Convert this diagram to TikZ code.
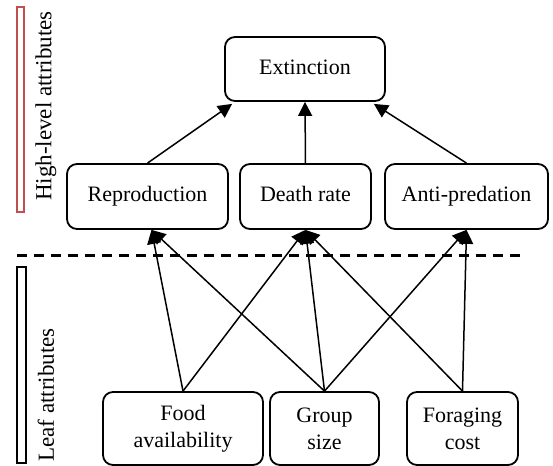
\documentclass[tikz,border=0pt]{standalone}
\usepackage{fontspec}
\setmainfont{Liberation Serif}
\usetikzlibrary{arrows.meta}
\definecolor{barred}{RGB}{192,80,77}
\tikzset{
  attr/.style={draw, rounded corners=5pt, line width=0.9pt, align=center,
    inner sep=0pt, minimum height=32.5pt, font=\fontsize{11}{13.5}\selectfont},
  upper/.style={attr, text height=7.8pt, text depth=2.4pt},
  leaf/.style={attr, minimum height=36.5pt},
  link/.style={-{Triangle[length=7pt,width=7pt]}, line width=0.75pt},
  side/.style={rotate=90, font=\fontsize{11.5}{13.5}\selectfont}
}
\begin{document}
\begin{tikzpicture}[x=0.5pt,y=-0.5pt]
\useasboundingbox (0,0) rectangle (553,466);
%attribute boxes, top to bottom
\node[upper, minimum width=80pt, minimum height=32pt] (ext) at (305,69) {Extinction};
\node[upper, minimum width=80.5pt] (repro) at (147.5,196.5) {Reproduction};
\node[upper, minimum width=65.5pt] (death) at (305.5,196.5) {Death rate};
\node[upper, minimum width=81.5pt] (anti) at (466.5,196.5) {Anti-predation};
\node[leaf, minimum width=80pt] (food) at (183,428.5) {Food\\availability};
\node[leaf, minimum width=54.5pt] (group) at (324.5,428.5) {Group\\size};
\node[leaf, minimum width=55.5pt] (forage) at (462.5,428.5) {Foraging\\cost};
%tips meet the extinction box near its corners
\coordinate (extl) at ([xshift=4pt,yshift=-1pt]ext.south west);
\coordinate (extr) at ([xshift=-6pt,yshift=-1pt]ext.south east);
\coordinate (reprob) at ([xshift=2pt]repro.south);
\draw[link] (repro.north) -- (extl);
\draw[link] (death.north) -- (ext.south);
\draw[link] (anti.north) -- (extr);
\draw[link] (food.north) -- (reprob);
\draw[link] (food.north) -- (death.south);
\draw[link] (group.north) -- (reprob);
\draw[link] (group.north) -- (death.south);
\draw[link] (group.north) -- (anti.south);
\draw[link] (forage.north) -- (death.south);
\draw[link] (forage.north) -- (anti.south);
%divider and the two side bars
\draw[line width=1.5pt, dash pattern=on 5pt off 3.5pt] (17,255) -- (520,255);
\draw[barred, line width=0.9pt] (17,7) rectangle (24,212);
\draw[line width=0.9pt] (17,267) rectangle (26,463);
\node[side] (high) at (46,106) {High-level attributes};
\node[side] (low) at (46,395) {Leaf attributes};
\end{tikzpicture}
\end{document}
